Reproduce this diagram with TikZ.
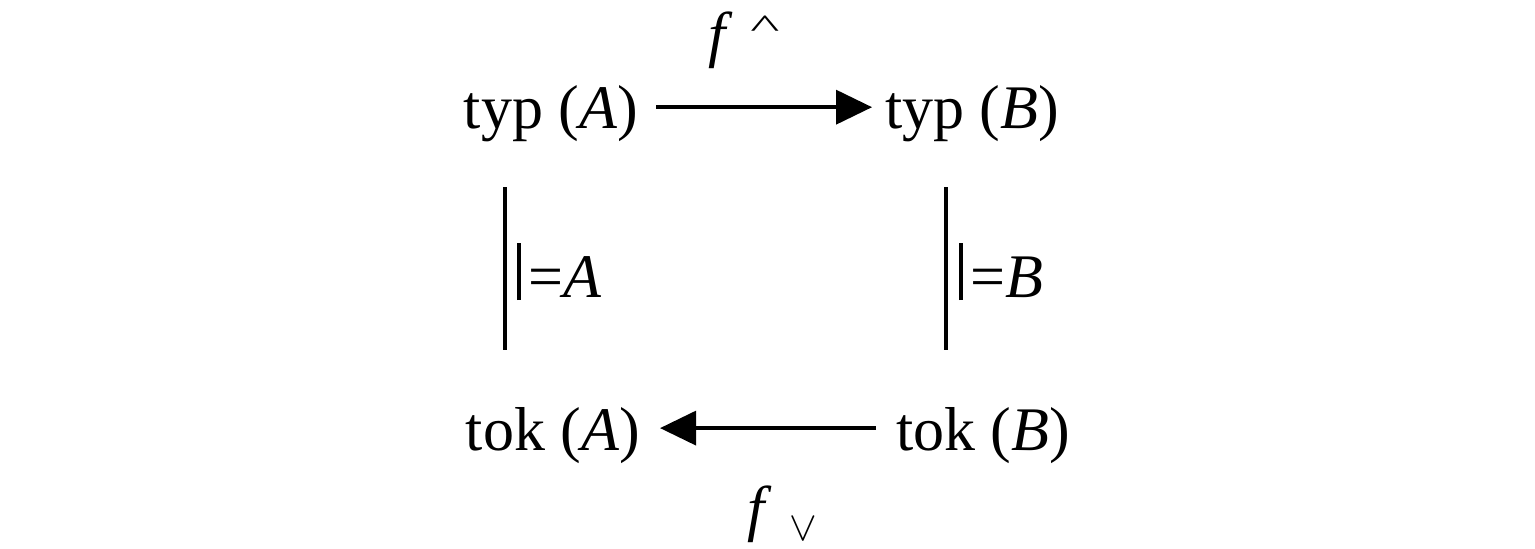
\documentclass[tikz,border=0pt]{standalone}
\usepackage{fontspec}
\setmainfont{Liberation Serif}
\usetikzlibrary{arrows.meta}
\begin{document}
\begin{tikzpicture}[x=0.5pt,y=-0.5pt,
  lbl/.style={inner sep=0pt,outer sep=0pt,anchor=base,font=\fontsize{31}{31}\selectfont},
  arr/.style={line width=1.8pt,-{Triangle[length=18pt,width=17pt]}},
  bar/.style={line width=1.8pt}]
\useasboundingbox (0,0) rectangle (1535,548);
\node[lbl] (typA) at (551,128) {typ (\textit{A})};
\node[lbl] (typB) at (972,128) {typ (\textit{B})};
\node[lbl] (tokA) at (553,450) {tok (\textit{A})};
\node[lbl] (tokB) at (983,450) {tok (\textit{B})};
\draw[arr,shorten <=9pt,shorten >=6.5pt] ([yshift=3pt]typA.east) -- ([yshift=3pt]typB.west);
\draw[arr,shorten <=10pt,shorten >=10pt] ([yshift=3.5pt]tokB.west) -- ([yshift=3.5pt]tokA.east);
\coordinate (vA1) at (505,187); \coordinate (vA2) at (505,350);
\coordinate (vB1) at (946,187); \coordinate (vB2) at (946,350);
\draw[bar] (vA1) -- (vA2);
\draw[bar] (vB1) -- (vB2);
\node[lbl,anchor=base west] (satA) at (517,297) {\rule[-1.5pt]{1.8pt}{28.5pt}\hspace{4pt}=\textit{A}};
\node[lbl,anchor=base west] (satB) at (959,297) {\rule[-1.5pt]{1.8pt}{28.5pt}\hspace{4pt}=\textit{B}};
\node[lbl,anchor=base west] (fup) at (708,55) {\textit{f}\hspace{9pt}\raisebox{9pt}{\scalebox{1}[0.53]{\textasciicircum}}};
\node[lbl,anchor=base west] (fdown) at (747,529) {\textit{f}\hspace{9pt}\raisebox{-5.5pt}{\fontsize{21}{21}\selectfont$\vee$}};
\end{tikzpicture}
\end{document}
